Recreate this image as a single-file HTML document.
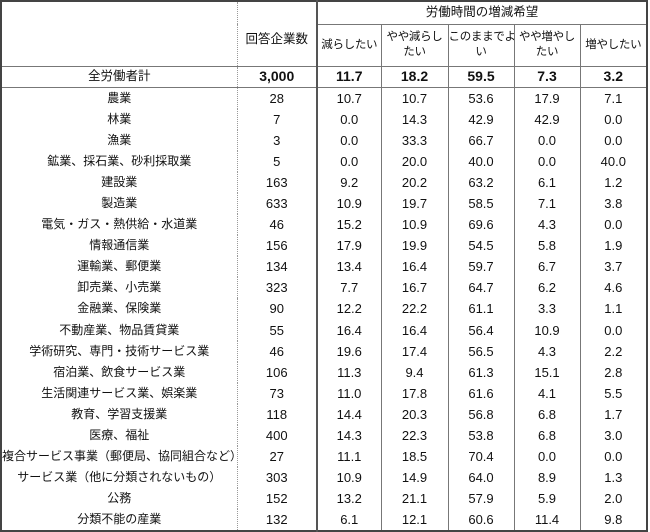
<!DOCTYPE html>
<html><head><meta charset="utf-8"><style>
html,body{margin:0;padding:0;background:#fff;width:650px;height:532px;overflow:hidden}
table{position:absolute;left:0;top:0;border-collapse:collapse;table-layout:fixed;width:648px;
font-family:"Liberation Sans","Noto Sans CJK JP",sans-serif;font-size:13px;color:#111;border:2px solid #444}
td{padding:0;text-align:center;vertical-align:middle;overflow:hidden;white-space:nowrap;line-height:15px}
td.c1{border-right:1px dotted #999;font-size:12px}
td.c2{border-right:2px solid #555}
td.n{border-right:1px solid #777}
tr.d td{height:21.1px}
tr.t td{height:20px;font-weight:bold;font-size:14px;border-top:1px solid #777;border-bottom:1px solid #777}
tr.t td.c1{font-weight:normal;font-size:12.5px}
.h td{font-size:11.5px;letter-spacing:-0.3px}
</style></head><body>
<table>
<colgroup><col style="width:236px"><col style="width:80px"><col style="width:64px"><col style="width:67px"><col style="width:66px"><col style="width:66px"><col style="width:67px"></colgroup>
<tr class="h" style="height:23px"><td class="c1" rowspan="2"></td><td class="c2" rowspan="2" style="vertical-align:top;padding-top:30px;font-size:12.5px;letter-spacing:0">回答企業数</td><td colspan="5" style="border-bottom:1px solid #777;font-size:12.5px;letter-spacing:0">労働時間の増減希望</td></tr>
<tr class="h" style="height:42px"><td class="n">減らしたい</td><td class="n">やや減らし<br>たい</td><td class="n">このままでよ<br>い</td><td class="n">やや増やし<br>たい</td><td>増やしたい</td></tr>
<tr class="t"><td class="c1">全労働者計</td><td class="c2">3,000</td><td class="n">11.7</td><td class="n">18.2</td><td class="n">59.5</td><td class="n">7.3</td><td>3.2</td></tr>
<tr class="d"><td class="c1">農業</td><td class="c2">28</td><td class="n">10.7</td><td class="n">10.7</td><td class="n">53.6</td><td class="n">17.9</td><td>7.1</td></tr>
<tr class="d"><td class="c1">林業</td><td class="c2">7</td><td class="n">0.0</td><td class="n">14.3</td><td class="n">42.9</td><td class="n">42.9</td><td>0.0</td></tr>
<tr class="d"><td class="c1">漁業</td><td class="c2">3</td><td class="n">0.0</td><td class="n">33.3</td><td class="n">66.7</td><td class="n">0.0</td><td>0.0</td></tr>
<tr class="d"><td class="c1">鉱業、採石業、砂利採取業</td><td class="c2">5</td><td class="n">0.0</td><td class="n">20.0</td><td class="n">40.0</td><td class="n">0.0</td><td>40.0</td></tr>
<tr class="d"><td class="c1">建設業</td><td class="c2">163</td><td class="n">9.2</td><td class="n">20.2</td><td class="n">63.2</td><td class="n">6.1</td><td>1.2</td></tr>
<tr class="d"><td class="c1">製造業</td><td class="c2">633</td><td class="n">10.9</td><td class="n">19.7</td><td class="n">58.5</td><td class="n">7.1</td><td>3.8</td></tr>
<tr class="d"><td class="c1">電気・ガス・熱供給・水道業</td><td class="c2">46</td><td class="n">15.2</td><td class="n">10.9</td><td class="n">69.6</td><td class="n">4.3</td><td>0.0</td></tr>
<tr class="d"><td class="c1">情報通信業</td><td class="c2">156</td><td class="n">17.9</td><td class="n">19.9</td><td class="n">54.5</td><td class="n">5.8</td><td>1.9</td></tr>
<tr class="d"><td class="c1">運輸業、郵便業</td><td class="c2">134</td><td class="n">13.4</td><td class="n">16.4</td><td class="n">59.7</td><td class="n">6.7</td><td>3.7</td></tr>
<tr class="d"><td class="c1">卸売業、小売業</td><td class="c2">323</td><td class="n">7.7</td><td class="n">16.7</td><td class="n">64.7</td><td class="n">6.2</td><td>4.6</td></tr>
<tr class="d"><td class="c1">金融業、保険業</td><td class="c2">90</td><td class="n">12.2</td><td class="n">22.2</td><td class="n">61.1</td><td class="n">3.3</td><td>1.1</td></tr>
<tr class="d"><td class="c1">不動産業、物品賃貸業</td><td class="c2">55</td><td class="n">16.4</td><td class="n">16.4</td><td class="n">56.4</td><td class="n">10.9</td><td>0.0</td></tr>
<tr class="d"><td class="c1">学術研究、専門・技術サービス業</td><td class="c2">46</td><td class="n">19.6</td><td class="n">17.4</td><td class="n">56.5</td><td class="n">4.3</td><td>2.2</td></tr>
<tr class="d"><td class="c1">宿泊業、飲食サービス業</td><td class="c2">106</td><td class="n">11.3</td><td class="n">9.4</td><td class="n">61.3</td><td class="n">15.1</td><td>2.8</td></tr>
<tr class="d"><td class="c1">生活関連サービス業、娯楽業</td><td class="c2">73</td><td class="n">11.0</td><td class="n">17.8</td><td class="n">61.6</td><td class="n">4.1</td><td>5.5</td></tr>
<tr class="d"><td class="c1">教育、学習支援業</td><td class="c2">118</td><td class="n">14.4</td><td class="n">20.3</td><td class="n">56.8</td><td class="n">6.8</td><td>1.7</td></tr>
<tr class="d"><td class="c1">医療、福祉</td><td class="c2">400</td><td class="n">14.3</td><td class="n">22.3</td><td class="n">53.8</td><td class="n">6.8</td><td>3.0</td></tr>
<tr class="d"><td class="c1">複合サービス事業（郵便局、協同組合など）</td><td class="c2">27</td><td class="n">11.1</td><td class="n">18.5</td><td class="n">70.4</td><td class="n">0.0</td><td>0.0</td></tr>
<tr class="d"><td class="c1">サービス業（他に分類されないもの）</td><td class="c2">303</td><td class="n">10.9</td><td class="n">14.9</td><td class="n">64.0</td><td class="n">8.9</td><td>1.3</td></tr>
<tr class="d"><td class="c1">公務</td><td class="c2">152</td><td class="n">13.2</td><td class="n">21.1</td><td class="n">57.9</td><td class="n">5.9</td><td>2.0</td></tr>
<tr class="d"><td class="c1">分類不能の産業</td><td class="c2">132</td><td class="n">6.1</td><td class="n">12.1</td><td class="n">60.6</td><td class="n">11.4</td><td>9.8</td></tr>
</table>
</body></html>
